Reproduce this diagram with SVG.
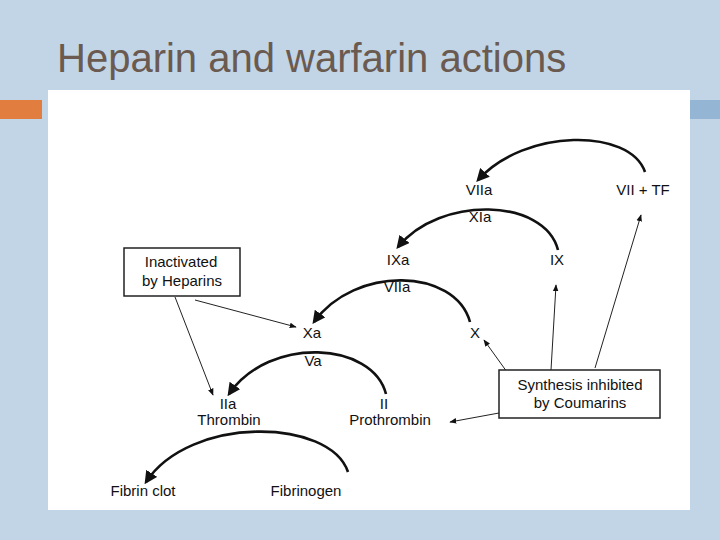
<svg xmlns="http://www.w3.org/2000/svg" width="720" height="540" viewBox="0 0 720 540">
<defs>
<marker id="big" viewBox="0 0 10 10" refX="8" refY="5" markerWidth="5" markerHeight="5" orient="auto"><path d="M0,0 L10,5 L0,10 z" fill="#111"/></marker>
<marker id="sm" viewBox="0 0 10 10" refX="9" refY="5" markerWidth="7" markerHeight="7" orient="auto"><path d="M0,1 L10,5 L0,9 z" fill="#111"/></marker>
<style>
text{font-family:"Liberation Sans",Arial,sans-serif;font-size:15px;fill:#111;text-anchor:middle}
.arc{fill:none;stroke:#111;stroke-width:2.6;marker-end:url(#big)}
.thin{fill:none;stroke:#222;stroke-width:1;marker-end:url(#sm)}
.box{fill:#fff;stroke:#222;stroke-width:1.5}
</style>
</defs>
<rect width="720" height="540" fill="#c2d5e7"/>
<text x="57" y="72" style="font-size:40px;fill:#6a5a50;text-anchor:start">Heparin and warfarin actions</text>
<rect x="0" y="100" width="42" height="19" fill="#e07d3f"/>
<rect x="690" y="100" width="30" height="19" fill="#94b6d4"/>
<rect x="48" y="90" width="642" height="420" fill="#fff"/>
<g id="connectors">
<path class="arc" d="M645,172 C630,128 525,128 478,180"/>
<path class="arc" d="M558,250 C545,198 440,195 398,247"/>
<path class="arc" d="M470,322 C455,268 355,265 314,322"/>
<path class="arc" d="M386,394 C373,342 270,335 229,394"/>
<path class="arc" d="M348,472 C330,418 190,415 146,482"/>
<path class="thin" d="M175,297 L213,395"/>
<path class="thin" d="M195,300 L296,327"/>
<path class="thin" d="M507,372 L484,340"/>
<path class="thin" d="M551,370 L556,285"/>
<path class="thin" d="M595,368 L641,215"/>
<path class="thin" d="M499,413 L450,422"/>
</g>
<g id="n-VIIa1"><text x="479" y="195">VIIa</text></g>
<g id="n-VIITF"><text x="643" y="195">VII + TF</text></g>
<g id="n-XIa"><text x="480" y="222">XIa</text></g>
<g id="n-IXa"><text x="398" y="265">IXa</text></g>
<g id="n-IX"><text x="557" y="265">IX</text></g>
<g id="n-VIIa2"><text x="397" y="292">VIIa</text></g>
<g id="n-Xa"><text x="312" y="338">Xa</text></g>
<g id="n-X"><text x="475" y="338">X</text></g>
<g id="n-Va"><text x="313" y="366">Va</text></g>
<g id="n-IIa"><text x="228" y="409">IIa</text><text x="229" y="425">Thrombin</text></g>
<g id="n-II"><text x="384" y="409">II</text><text x="390" y="425">Prothrombin</text></g>
<g id="n-fibrin"><text x="143" y="496">Fibrin clot</text></g>
<g id="n-fibrinogen"><text x="306" y="496">Fibrinogen</text></g>
<g id="n-heparin"><rect class="box" x="124" y="248" width="116" height="48"/><text x="181" y="267">Inactivated</text><text x="182" y="286">by Heparins</text></g>
<g id="n-coumarin"><rect class="box" x="499" y="370" width="161" height="48"/><text x="580" y="390">Synthesis inhibited</text><text x="580" y="408">by Coumarins</text></g>
</svg>
